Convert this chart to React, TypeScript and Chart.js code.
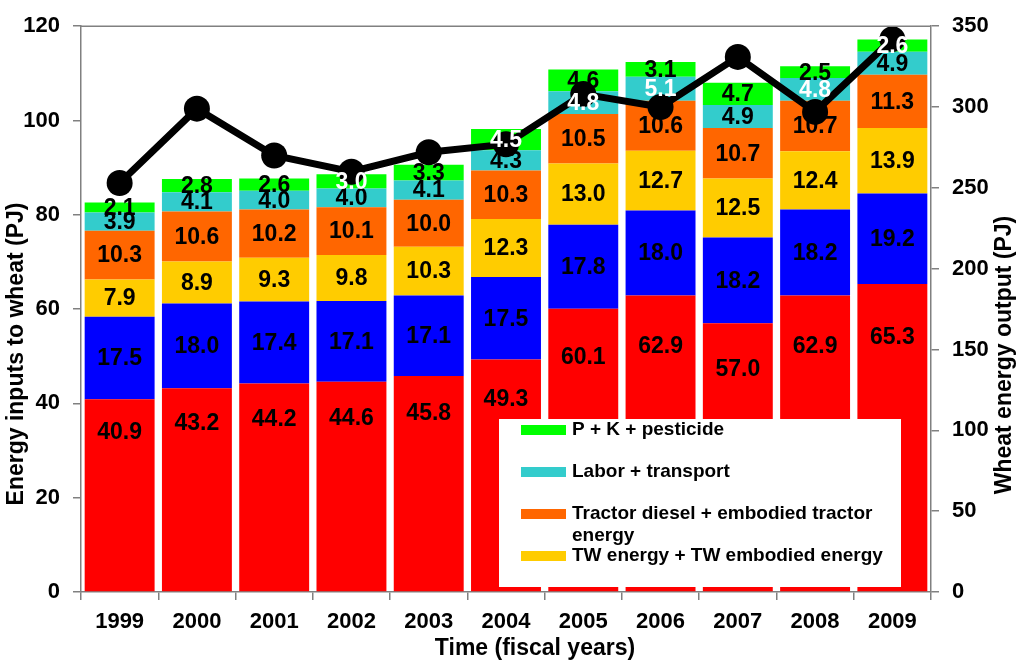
import React, { useEffect, useRef } from "react";
import { Chart, registerables } from "chart.js";

Chart.register(...registerables);

const years = ["1999", "2000", "2001", "2002", "2003", "2004", "2005", "2006", "2007", "2008", "2009"];

// stacked inputs, bottom to top (PJ)
const nFertilizer = [40.9, 43.2, 44.2, 44.6, 45.8, 49.3, 60.1, 62.9, 57.0, 62.9, 65.3];
const seedInput = [17.5, 18.0, 17.4, 17.1, 17.1, 17.5, 17.8, 18.0, 18.2, 18.2, 19.2];
const twEnergy = [7.9, 8.9, 9.3, 9.8, 10.3, 12.3, 13.0, 12.7, 12.5, 12.4, 13.9];
const tractorEnergy = [10.3, 10.6, 10.2, 10.1, 10.0, 10.3, 10.5, 10.6, 10.7, 10.7, 11.3];
const laborTransport = [3.9, 4.1, 4.0, 4.0, 4.1, 4.3, 4.8, 5.1, 4.9, 4.8, 4.9];
const pkPesticide = [2.1, 2.8, 2.6, 3.0, 3.3, 4.5, 4.6, 3.1, 4.7, 2.5, 2.6];

// right axis (PJ)
const wheatOutput = [253, 299, 270, 260, 272, 277, 308, 300, 331, 297, 342];

const seriesNames = [
  "N fertilizer",
  "Seed",
  "TW energy + TW embodied energy",
  "Tractor diesel + embodied tractor energy",
  "Labor + transport",
  "P + K + pesticide",
];
const seriesColors = ["#FF0000", "#0000FF", "#FFCC00", "#FF6600", "#33CCCC", "#00FF00"];
const legendOrder = [5, 4, 3, 2];
// labels drawn white where they sit on the black line
const whiteLabels = ["5-3", "5-5", "5-10", "4-6", "4-7", "4-9"];

const FONT = "'Liberation Sans', Arial, sans-serif";
const AXIS = "#808080";

function wrapText(ctx: CanvasRenderingContext2D, text: string, maxW: number) {
  const words = text.split(" ");
  const lines: string[] = [];
  let cur = "";
  for (const w of words) {
    const test = cur ? cur + " " + w : w;
    if (ctx.measureText(test).width > maxW && cur) {
      lines.push(cur);
      cur = w;
    } else {
      cur = test;
    }
  }
  if (cur) lines.push(cur);
  return lines;
}

const overlayPlugin = {
  id: "overlay",
  afterDatasetsDraw(chart: any) {
    const ctx: CanvasRenderingContext2D = chart.ctx;
    const area = chart.chartArea;
    ctx.save();

    // top frame line
    ctx.strokeStyle = AXIS;
    ctx.lineWidth = 1.5;
    ctx.beginPath();
    ctx.moveTo(area.left, area.top);
    ctx.lineTo(area.right, area.top);
    ctx.stroke();

    // legend box
    const bx = 499;
    const by = 419;
    ctx.fillStyle = "#FFFFFF";
    ctx.fillRect(bx, by, 402, 168);
    ctx.font = `bold 19px ${FONT}`;
    ctx.textAlign = "left";
    ctx.textBaseline = "middle";
    legendOrder.forEach((di, k) => {
      const cy = by + 11 + k * 42;
      ctx.fillStyle = seriesColors[di];
      ctx.fillRect(bx + 22, cy - 5, 45, 10);
      ctx.fillStyle = "#000";
      const lines = wrapText(ctx, seriesNames[di], 325);
      lines.forEach((ln, li) => ctx.fillText(ln, bx + 73, cy + li * 22));
    });

    // value labels
    ctx.font = `bold 23px ${FONT}`;
    ctx.textAlign = "center";
    ctx.textBaseline = "middle";
    for (let i = 0; i < 6; i++) {
      const meta = chart.getDatasetMeta(i);
      const values = chart.data.datasets[i].data as number[];
      meta.data.forEach((el: any, j: number) => {
        const { x, y, base } = el.getProps(["x", "y", "base"], true);
        const ty = i === 0 ? base + (y - base) * 0.83 : (y + base) / 2;
        ctx.fillStyle = whiteLabels.includes(`${i}-${j}`) ? "#FFFFFF" : "#000000";
        ctx.fillText(values[j].toFixed(1), x, ty + 1);
      });
    }
    ctx.restore();
  },
  afterDraw(chart: any) {
    const ctx: CanvasRenderingContext2D = chart.ctx;
    ctx.save();
    ctx.fillStyle = "#000";
    ctx.font = `bold 23px ${FONT}`;
    ctx.textAlign = "center";
    ctx.textBaseline = "middle";
    ctx.fillText("Time (fiscal years)", 535, 649);

    ctx.translate(17, 354);
    ctx.rotate(-Math.PI / 2);
    ctx.fillText("Energy inputs to wheat (PJ)", 0, 0);
    ctx.restore();

    ctx.save();
    ctx.fillStyle = "#000";
    ctx.font = `bold 23px ${FONT}`;
    ctx.textAlign = "center";
    ctx.textBaseline = "middle";
    ctx.translate(1005, 355);
    ctx.rotate(-Math.PI / 2);
    ctx.fillText("Wheat energy output (PJ)", 0, 0);
    ctx.restore();
  },
};

export default function App() {
  const canvasEl = useRef<HTMLCanvasElement>(null);

  useEffect(() => {
    if (!canvasEl.current) return;
    const ctx = canvasEl.current.getContext("2d");
    if (!ctx) return;

    const barSets = [nFertilizer, seedInput, twEnergy, tractorEnergy, laborTransport, pkPesticide].map(
      (d, i) => ({
        type: "bar" as const,
        label: seriesNames[i],
        data: d,
        backgroundColor: seriesColors[i],
        borderWidth: 0,
        yAxisID: "y",
        order: 1,
        barPercentage: 0.905,
        categoryPercentage: 1,
      })
    );

    const tickFont = { family: FONT, size: 22, weight: "bold" as const };

    const chart = new Chart(ctx, {
      type: "bar",
      data: {
        labels: years,
        datasets: [
          ...barSets,
          {
            type: "line" as const,
            label: "Wheat energy output",
            data: wheatOutput,
            yAxisID: "y1",
            borderColor: "#000",
            borderWidth: 7,
            pointRadius: 13,
            pointBackgroundColor: "#000",
            pointBorderWidth: 0,
            tension: 0,
            order: 0,
          },
        ] as any,
      },
      options: {
        animation: false,
        responsive: false,
        layout: { padding: { top: 16, left: 0, right: 0, bottom: 0 } },
        plugins: {
          legend: { display: false },
          tooltip: { enabled: false },
        },
        scales: {
          x: {
            stacked: true,
            grid: { drawOnChartArea: false, drawTicks: true, tickLength: 8, color: AXIS, lineWidth: 1.5, offset: true },
            border: { display: true, color: AXIS, width: 1.5 },
            ticks: { font: tickFont, color: "#000", padding: 9, maxRotation: 0 },
            afterFit: (s: any) => {
              s.height = 76;
            },
          },
          y: {
            stacked: true,
            min: 0,
            max: 120,
            position: "left",
            grid: { drawOnChartArea: false, drawTicks: true, tickLength: 8, color: AXIS, lineWidth: 1.5 },
            border: { display: true, color: AXIS, width: 1.5 },
            ticks: { stepSize: 20, font: tickFont, color: "#000", padding: 13 },
            afterFit: (s: any) => {
              s.width = 81;
            },
          },
          y1: {
            min: 0,
            max: 350,
            position: "right",
            grid: { drawOnChartArea: false, drawTicks: true, tickLength: 8, color: AXIS, lineWidth: 1.5 },
            border: { display: true, color: AXIS, width: 1.5 },
            ticks: { stepSize: 50, font: tickFont, color: "#000", padding: 13 },
            afterFit: (s: any) => {
              s.width = 93;
            },
          },
        },
      },
      plugins: [overlayPlugin],
    });

    return () => {
      chart.destroy();
    };
  }, []);

  return (
    <div style={{ position: "absolute", left: 0, top: 0, width: 1024, height: 668, background: "#fff" }}>
      <canvas ref={canvasEl} width={1024} height={668} />
    </div>
  );
}
